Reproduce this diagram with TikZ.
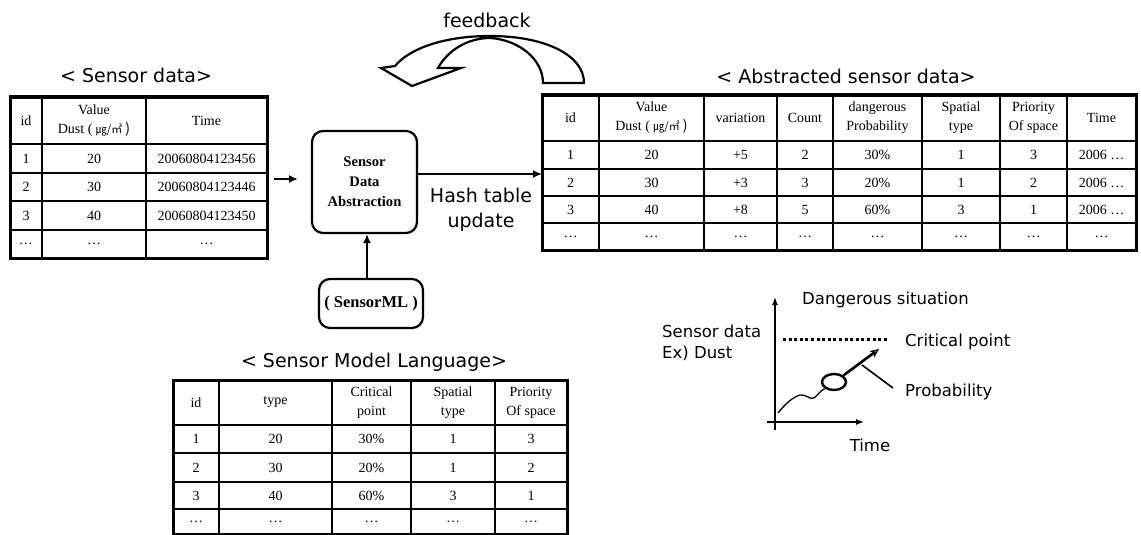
\documentclass[tikz,border=0pt]{standalone}
\usepackage{fontspec}
\setmainfont{Liberation Serif}
\newfontfamily\dvsans{DejaVu Sans}
\newfontfamily\cjk{Noto Sans CJK KR}
\usetikzlibrary{arrows.meta,shapes.geometric}

% one table cell: name, x, y, text
\newcommand\tcell[4]{\node[cell] (#1) at (#2,#3) {#4};}
\newcommand\unit{\cjk{\fontsize{11}{12}\selectfont ㎍/㎥}}

\begin{document}
\begin{tikzpicture}[x=1pt,y=-1pt,
  cell/.style={inner sep=0pt,align=center,font=\fontsize{14}{19}\selectfont},
  title/.style={inner sep=0pt,font=\dvsans\fontsize{19}{25}\selectfont},
  glabel/.style={inner sep=0pt,font=\dvsans\fontsize{16.5}{21}\selectfont},
  inner/.style={line width=1.5pt},
  outer/.style={line width=3pt},
  procbox/.style={draw,line width=2.2pt,rounded corners=11pt,inner sep=0pt,align=center,
    font=\bfseries\fontsize{14.6}{20}\selectfont},
  flow/.style={line width=2.8pt,-{Latex[length=9pt,width=8pt]}},
]
\useasboundingbox (0,0) rectangle (1141,535);

% ---------------- titles ----------------
\node[title] (tsd)  at (136,75)  {< Sensor data>};
\node[title] (tasd) at (846,76)  {< Abstracted sensor data>};
\node[title] (tsml) at (374,362) {< Sensor Model Language>};
\node[title] (tfb)  at (487,20)  {feedback};

% ---------------- sensor data table ----------------
\foreach \x in {42,146} \draw[inner] (\x,97) -- (\x,258);
\foreach \y in {144,173,201,230} \draw[inner] (10,\y) -- (267,\y);
\draw[outer] (10,97) rectangle (267,258);
\tcell{sd-h1}{26}{120.5}{id}
\tcell{sd-h2}{94}{120.5}{Value\\Dust ( \unit\ )}
\tcell{sd-h3}{206.5}{120.5}{Time}
\tcell{sd-11}{26}{158.5}{1}  \tcell{sd-12}{94}{158.5}{20} \tcell{sd-13}{206.5}{158.5}{20060804123456}
\tcell{sd-21}{26}{187}{2}    \tcell{sd-22}{94}{187}{30}   \tcell{sd-23}{206.5}{187}{20060804123446}
\tcell{sd-31}{26}{215.5}{3}  \tcell{sd-32}{94}{215.5}{40} \tcell{sd-33}{206.5}{215.5}{20060804123450}
\tcell{sd-41}{26}{244}{…}    \tcell{sd-42}{94}{244}{…}    \tcell{sd-43}{206.5}{244}{…}

% ---------------- abstracted sensor data table ----------------
\foreach \x in {599,704,777,833,922,1000,1067} \draw[inner] (\x,95) -- (\x,250);
\foreach \y in {141,169,196,223} \draw[inner] (542,\y) -- (1136,\y);
\draw[outer] (542,95) rectangle (1136,250);
\tcell{ad-h1}{570.5}{118}{id}
\tcell{ad-h2}{651.5}{118}{Value\\Dust ( \unit\ )}
\tcell{ad-h3}{740.5}{118}{variation}
\tcell{ad-h4}{805}{118}{Count}
\tcell{ad-h5}{877.5}{118}{dangerous\\Probability}
\tcell{ad-h6}{961}{118}{Spatial\\type}
\tcell{ad-h7}{1033.5}{118}{Priority\\Of space}
\tcell{ad-h8}{1101.5}{118}{Time}
\tcell{ad-11}{570.5}{155}{1}\tcell{ad-12}{651.5}{155}{20}\tcell{ad-13}{740.5}{155}{+5}\tcell{ad-14}{805}{155}{2}
\tcell{ad-15}{877.5}{155}{30\%}\tcell{ad-16}{961}{155}{1}\tcell{ad-17}{1033.5}{155}{3}\tcell{ad-18}{1101.5}{155}{2006 …}
\tcell{ad-21}{570.5}{182.5}{2}\tcell{ad-22}{651.5}{182.5}{30}\tcell{ad-23}{740.5}{182.5}{+3}\tcell{ad-24}{805}{182.5}{3}
\tcell{ad-25}{877.5}{182.5}{20\%}\tcell{ad-26}{961}{182.5}{1}\tcell{ad-27}{1033.5}{182.5}{2}\tcell{ad-28}{1101.5}{182.5}{2006 …}
\tcell{ad-31}{570.5}{209.5}{3}\tcell{ad-32}{651.5}{209.5}{40}\tcell{ad-33}{740.5}{209.5}{+8}\tcell{ad-34}{805}{209.5}{5}
\tcell{ad-35}{877.5}{209.5}{60\%}\tcell{ad-36}{961}{209.5}{3}\tcell{ad-37}{1033.5}{209.5}{1}\tcell{ad-38}{1101.5}{209.5}{2006 …}
\foreach \x [count=\i] in {570.5,651.5,740.5,805,877.5,961,1033.5,1101.5}
  \node[cell] (ad-4\i) at (\x,236.5) {…};

% ---------------- sensor model language table ----------------
\foreach \x in {219,332,411,495} \draw[inner] (\x,380) -- (\x,534);
\foreach \y in {425,453,482,509} \draw[inner] (173,\y) -- (567,\y);
\draw[outer] (173,380) rectangle (567,534);
\tcell{ml-h1}{196}{402.5}{id}
\tcell{ml-h2}{275.5}{402.5}{type}
\tcell{ml-h3}{371.5}{402.5}{Critical\\point}
\tcell{ml-h4}{453}{402.5}{Spatial\\type}
\tcell{ml-h5}{531}{402.5}{Priority\\Of space}
\tcell{ml-11}{196}{439}{1}\tcell{ml-12}{275.5}{439}{20}\tcell{ml-13}{371.5}{439}{30\%}\tcell{ml-14}{453}{439}{1}\tcell{ml-15}{531}{439}{3}
\tcell{ml-21}{196}{467.5}{2}\tcell{ml-22}{275.5}{467.5}{30}\tcell{ml-23}{371.5}{467.5}{20\%}\tcell{ml-24}{453}{467.5}{1}\tcell{ml-25}{531}{467.5}{2}
\tcell{ml-31}{196}{495.5}{3}\tcell{ml-32}{275.5}{495.5}{40}\tcell{ml-33}{371.5}{495.5}{60\%}\tcell{ml-34}{453}{495.5}{3}\tcell{ml-35}{531}{495.5}{1}
\foreach \x [count=\i] in {196,275.5,371.5,453,531}
  \node[cell] (ml-4\i) at (\x,521.5) {…};

% ---------------- processing boxes ----------------
\node[procbox,minimum width=105pt,minimum height=102pt] (sda) at (364.5,182)
  {Sensor\\Data\\Abstraction};
\node[procbox,minimum width=104pt,minimum height=49pt,
  font=\bfseries\fontsize{16.5}{20}\selectfont] (sml) at (371,303.5)
  {( SensorML )};

% ---------------- flow arrows ----------------
\coordinate (inS) at (274,179);
\coordinate (inE) at (298,179);
\draw[flow] (inS) -- (inE);
\coordinate (outE) at (542,174);
\draw[flow] (sda.east |- outE) -- (outE);
\coordinate (upx) at (367,0);
\draw[flow] (sml.north -| upx) -- (sda.south -| upx);
\node[title,align=center] (hash) at (481,209.5) {Hash table\\update};

% ---------------- feedback arrow ----------------
\draw[line width=2.2pt,line join=miter,fill=white]
  (584,83) .. controls (584,55) and (545,36) .. (490,36)
  .. controls (445,36) and (410,48) .. (395,66)
  -- (381,68) -- (412,86) -- (461,68) -- (438,68)
  .. controls (448,50) and (468,38) .. (490,38)
  .. controls (520,40) and (543,60) .. (543,83) -- cycle;

% ---------------- dangerous situation graph ----------------
\coordinate (yb) at (775,430);
\coordinate (yt) at (775,297);
\coordinate (xl) at (767,422);
\coordinate (xr) at (864,422);
\draw[line width=1.4pt,-{Latex[length=8pt,width=6pt]}] (yb) -- (yt);
\draw[line width=1.4pt,-{Latex[length=8pt,width=6pt]}] (xl) -- (xr);
\coordinate (cpl) at (783,339);
\coordinate (cpr) at (888,339);
\draw[line width=3pt,dash pattern=on 3pt off 2.6pt] (cpl) -- (cpr);
\node[draw,line width=2.4pt,ellipse,minimum width=24pt,minimum height=16pt,inner sep=0pt] (prob) at (834,382) {};
\coordinate (w0) at (778,413);
\draw[line width=1.3pt] (w0) .. controls (785,404) and (793,397) .. (800,395)
  .. controls (806,394) and (810,400) .. (814,398)
  .. controls (817,396) and (819,392) .. (prob.south west);
\coordinate (trend) at (879,349);
\draw[line width=2.6pt,-{Stealth[open,length=9pt,width=8pt,line width=1.2pt]}] (prob.north east) -- (trend);
\coordinate (pa) at (862,365);
\coordinate (pb) at (893,388);
\draw[line width=1.6pt] (pa) -- (pb);
\node[glabel,anchor=west] (dang) at (802,300) {Dangerous situation};
\node[glabel,anchor=west] (crit) at (905,342) {Critical point};
\node[glabel,anchor=west] (probl) at (905,392) {Probability};
\node[glabel,anchor=west,align=left] (sdl) at (662,342.5) {Sensor data\\Ex) Dust};
\node[glabel] (timel) at (870,445) {Time};
\end{tikzpicture}
\end{document}
